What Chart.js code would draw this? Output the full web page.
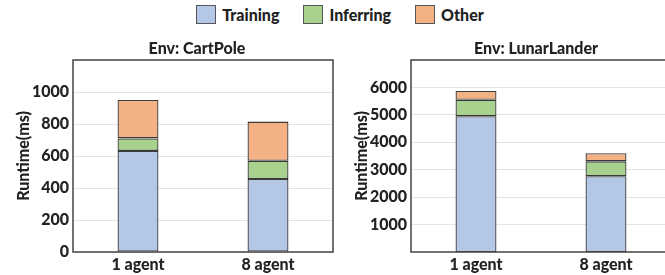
<!DOCTYPE html>
<html>
<head>
<meta charset="utf-8">
<script src="https://cdn.jsdelivr.net/npm/chart.js@4.4.1/dist/chart.umd.min.js"></script>
<style>
  html, body { margin: 0; padding: 0; background: #fff; width: 665px; height: 275px; overflow: hidden; }
  #wrap { position: relative; width: 665px; height: 275px; }
  .box { position: absolute; top: 0; height: 275px; }
  #legend { position: absolute; top: 5px; left: 0; width: 680px; display: flex; justify-content: center;
            font-family: Lato, sans-serif; font-weight: 900; font-size: 16px; color: #222; }
  .item { display: flex; align-items: center; margin: 0 12px; }
  .sw { width: 20px; height: 19px; border: 1px solid #555; margin-right: 6px; box-sizing: border-box; }
</style>
</head>
<body>
<div id="wrap">
  <div id="legend"></div>
  <div class="box" style="left:0;width:340px"><canvas id="c1"></canvas></div>
  <div class="box" style="left:338px;width:337px"><canvas id="c2"></canvas></div>
</div>
<script>
const categories = ["1 agent", "8 agent"];
const seriesNames = ["Training", "Inferring", "Other"];
const seriesColors = ["#b4c7e7", "#a9d18e", "#f4b183"];

const cartTitle = "Env: CartPole";
const cartTraining = [632, 456];
const cartInferring = [78, 114];
const cartOther = [240, 245];
const cartTicks = [0, 200, 400, 600, 800, 1000];

const lunarTitle = "Env: LunarLander";
const lunarTraining = [4950, 2760];
const lunarInferring = [600, 545];
const lunarOther = [320, 295];
const lunarTicks = [1000, 2000, 3000, 4000, 5000, 6000];

const yTitle = "Runtime(ms)";

// HTML legend
const leg = document.getElementById('legend');
seriesNames.forEach((n, i) => {
  const it = document.createElement('div'); it.className = 'item';
  const sw = document.createElement('div'); sw.className = 'sw'; sw.style.background = seriesColors[i];
  const tx = document.createElement('span'); tx.textContent = n;
  it.appendChild(sw); it.appendChild(tx); leg.appendChild(it);
});

const FONT = 'Lato';
const W = 900;

const framePlugin = {
  id: 'frame',
  afterDraw(chart, args, opts) {
    const a = chart.chartArea, ctx = chart.ctx;
    ctx.save();
    ctx.strokeStyle = '#444';
    ctx.lineWidth = 1.5;
    ctx.strokeRect(a.left, a.top, a.right - a.left, a.bottom - a.top);
    ctx.fillStyle = '#222';
    ctx.font = W + ' 16px ' + FONT;
    ctx.textAlign = 'center';
    ctx.textBaseline = 'middle';
    ctx.fillText(opts.text, (a.left + a.right) / 2 + (opts.dx || 0), a.top - 11);
    ctx.restore();
  }
};

function makeChart(id, title, tr, inf, oth, ticks, yMax, padRight, yWidth, dx) {
  const vals = [tr, inf, oth];
  return new Chart(document.getElementById(id), {
    type: 'bar',
    data: {
      labels: categories,
      datasets: seriesNames.map((n, i) => ({
        label: n, data: vals[i], backgroundColor: seriesColors[i],
        borderColor: '#3a3a3a', borderWidth: 1.3, borderSkipped: false,
        barPercentage: 0.63, categoryPercentage: 0.5
      }))
    },
    options: {
      responsive: true, maintainAspectRatio: false, animation: false,
      layout: { padding: { top: 60, right: padRight, left: 0, bottom: 0 } },
      plugins: { legend: { display: false }, tooltip: { enabled: false }, frame: { text: title, dx: dx } },
      scales: {
        x: {
          stacked: true,
          grid: { display: false, drawTicks: false },
          border: { display: false },
          ticks: { color: '#222', font: { family: FONT, weight: W, size: 16, lineHeight: 1 }, padding: 5 },
          afterFit(s) { s.height = 23; }
        },
        y: {
          stacked: true, min: 0, max: yMax,
          afterBuildTicks(s) { s.ticks = ticks.map(v => ({ value: v })).concat([{ value: yMax }]); },
          grid: { color: '#e4e4e4', lineWidth: 1, drawTicks: false },
          border: { display: false },
          ticks: {
            color: '#222', font: { family: FONT, weight: W, size: 16 }, padding: 4,
            callback: (v) => ticks.includes(v) ? String(v) : ''
          },
          title: { display: true, text: yTitle, color: '#222', font: { family: FONT, weight: W, size: 16 }, padding: { top: 14, bottom: 0 } },
          afterFit(s) { s.width = yWidth; }
        }
      }
    },
    plugins: [framePlugin]
  });
}

makeChart('c1', cartTitle, cartTraining, cartInferring, cartOther, cartTicks, 1200, 7, 73, -6);
makeChart('c2', lunarTitle, lunarTraining, lunarInferring, lunarOther, lunarTicks, 7000, 4, 73, -5);
</script>
</body>
</html>
